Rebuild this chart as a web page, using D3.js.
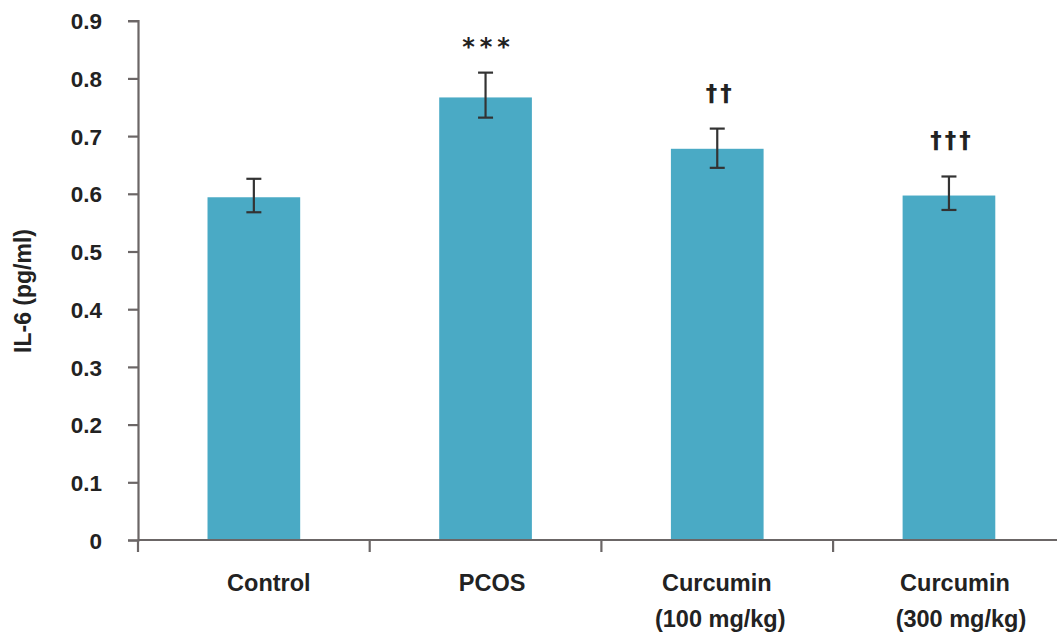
<!DOCTYPE html>
<html>
<head>
<meta charset="utf-8">
<script src="https://cdn.jsdelivr.net/npm/d3@7"></script>
<style>
  html, body { margin: 0; padding: 0; background: #fff; }
  svg { display: block; }
  text { font-family: "Liberation Sans", Arial, sans-serif; font-weight: bold; fill: #222; }
</style>
</head>
<body>
<svg id="chart" width="1057" height="639"></svg>
<script>
// ---- data ----
const categories = ["Control", "PCOS", "Curcumin\n(100 mg/kg)", "Curcumin\n(300 mg/kg)"];
const means = [0.594, 0.767, 0.678, 0.597];
const errLow = [0.568, 0.732, 0.645, 0.572];
const errHigh = [0.626, 0.810, 0.713, 0.630];
const significance = ["", "***", "††", "†††"];
const yTicks = [0, 0.1, 0.2, 0.3, 0.4, 0.5, 0.6, 0.7, 0.8, 0.9];
const yTitle = "IL-6 (pg/ml)";

// ---- layout ----
const svg = d3.select("#chart");
const x0 = 138, yBase = 540, yTop = 20.7;
const x = d3.scaleBand().domain(categories).range([x0, x0 + 4 * 231.7]).paddingInner(0).paddingOuter(0);
const y = d3.scaleLinear().domain([0, 0.9]).range([yBase, yTop]);
const axisColor = "#6b6666";
const barColor = "#4aaac5";
const barW = x.bandwidth() * 0.4;
// horizontal nudges of category label lines (as placed in the original figure)
const labelNudge = [[15], [6.5], [-0.5, 3], [6, 12]];

// bars
svg.append("g").selectAll("rect").data(categories).join("rect")
  .attr("x", d => x(d) + x.bandwidth() / 2 - barW / 2)
  .attr("y", (d, i) => y(means[i]))
  .attr("width", barW)
  .attr("height", (d, i) => y(0) - y(means[i]))
  .attr("fill", barColor);

// y axis
const yAxis = d3.axisLeft(y).tickValues(yTicks).tickSize(10).tickPadding(0)
  .tickFormat(d => d === 0 ? "0" : d3.format(".1f")(d));
const gy = svg.append("g").attr("transform", `translate(${x0},0)`).call(yAxis);
gy.select(".domain").attr("stroke", axisColor).attr("stroke-width", 2.2);
gy.selectAll(".tick line").attr("stroke", axisColor).attr("stroke-width", 2.2);
gy.selectAll(".tick text").attr("x", -36).attr("dy", "0.36em")
  .style("font-size", "22.5px").style("font-family", "'Liberation Sans', Arial, sans-serif")
  .style("font-weight", "bold").attr("fill", "#222");

// x axis
const xAxis = d3.axisBottom(x).tickValues([]).tickSize(0);
const gx = svg.append("g").attr("transform", `translate(0,${yBase})`).call(xAxis);
gx.select(".domain").attr("d", `M${x0},0H1057`).attr("stroke", axisColor).attr("stroke-width", 2.2);
// category boundary ticks
const bounds = categories.map(c => x(c)).concat([x.range()[1]]);
gx.selectAll("line.bt").data(bounds).join("line").attr("class", "bt")
  .attr("x1", d => d).attr("x2", d => d).attr("y1", 0).attr("y2", 12)
  .attr("stroke", axisColor).attr("stroke-width", 2.2);

// category labels
categories.forEach((c, i) => {
  const lines = c.split("\n");
  const t = svg.append("text").attr("text-anchor", "middle").style("font-size", "23.5px");
  lines.forEach((l, j) => {
    t.append("tspan").attr("x", x(c) + x.bandwidth() / 2 + labelNudge[i][j]).attr("y", 591 + j * 36).text(l);
  });
});

// error bars
const capW = 15;
const eb = svg.append("g").attr("stroke", "#333").attr("stroke-width", 2.2);
categories.forEach((c, i) => {
  const cx = x(c) + x.bandwidth() / 2;
  eb.append("line").attr("x1", cx).attr("x2", cx).attr("y1", y(errHigh[i])).attr("y2", y(errLow[i]));
  eb.append("line").attr("x1", cx - capW / 2).attr("x2", cx + capW / 2).attr("y1", y(errHigh[i])).attr("y2", y(errHigh[i]));
  eb.append("line").attr("x1", cx - capW / 2).attr("x2", cx + capW / 2).attr("y1", y(errLow[i])).attr("y2", y(errLow[i]));
});

// significance markers
categories.forEach((c, i) => {
  if (!significance[i]) return;
  const cx = x(c) + x.bandwidth() / 2;
  const isStar = significance[i].includes("*");
  svg.append("text").attr("text-anchor", "middle")
    .attr("x", cx + 3)
    .attr("y", y(errHigh[i]) - (isStar ? 18 : 28))
    .style("font-size", isStar ? "24px" : "23px")
    .style("letter-spacing", isStar ? "5px" : "3px")
    .style("font-family", "'DejaVu Sans', 'Liberation Sans', sans-serif")
    .attr("fill", "#333")
    .text(significance[i]);
});

// y title
svg.append("text").attr("transform", `translate(31,291) rotate(-90)`)
  .attr("text-anchor", "middle").style("font-size", "23px").text(yTitle);
</script>
</body>
</html>
